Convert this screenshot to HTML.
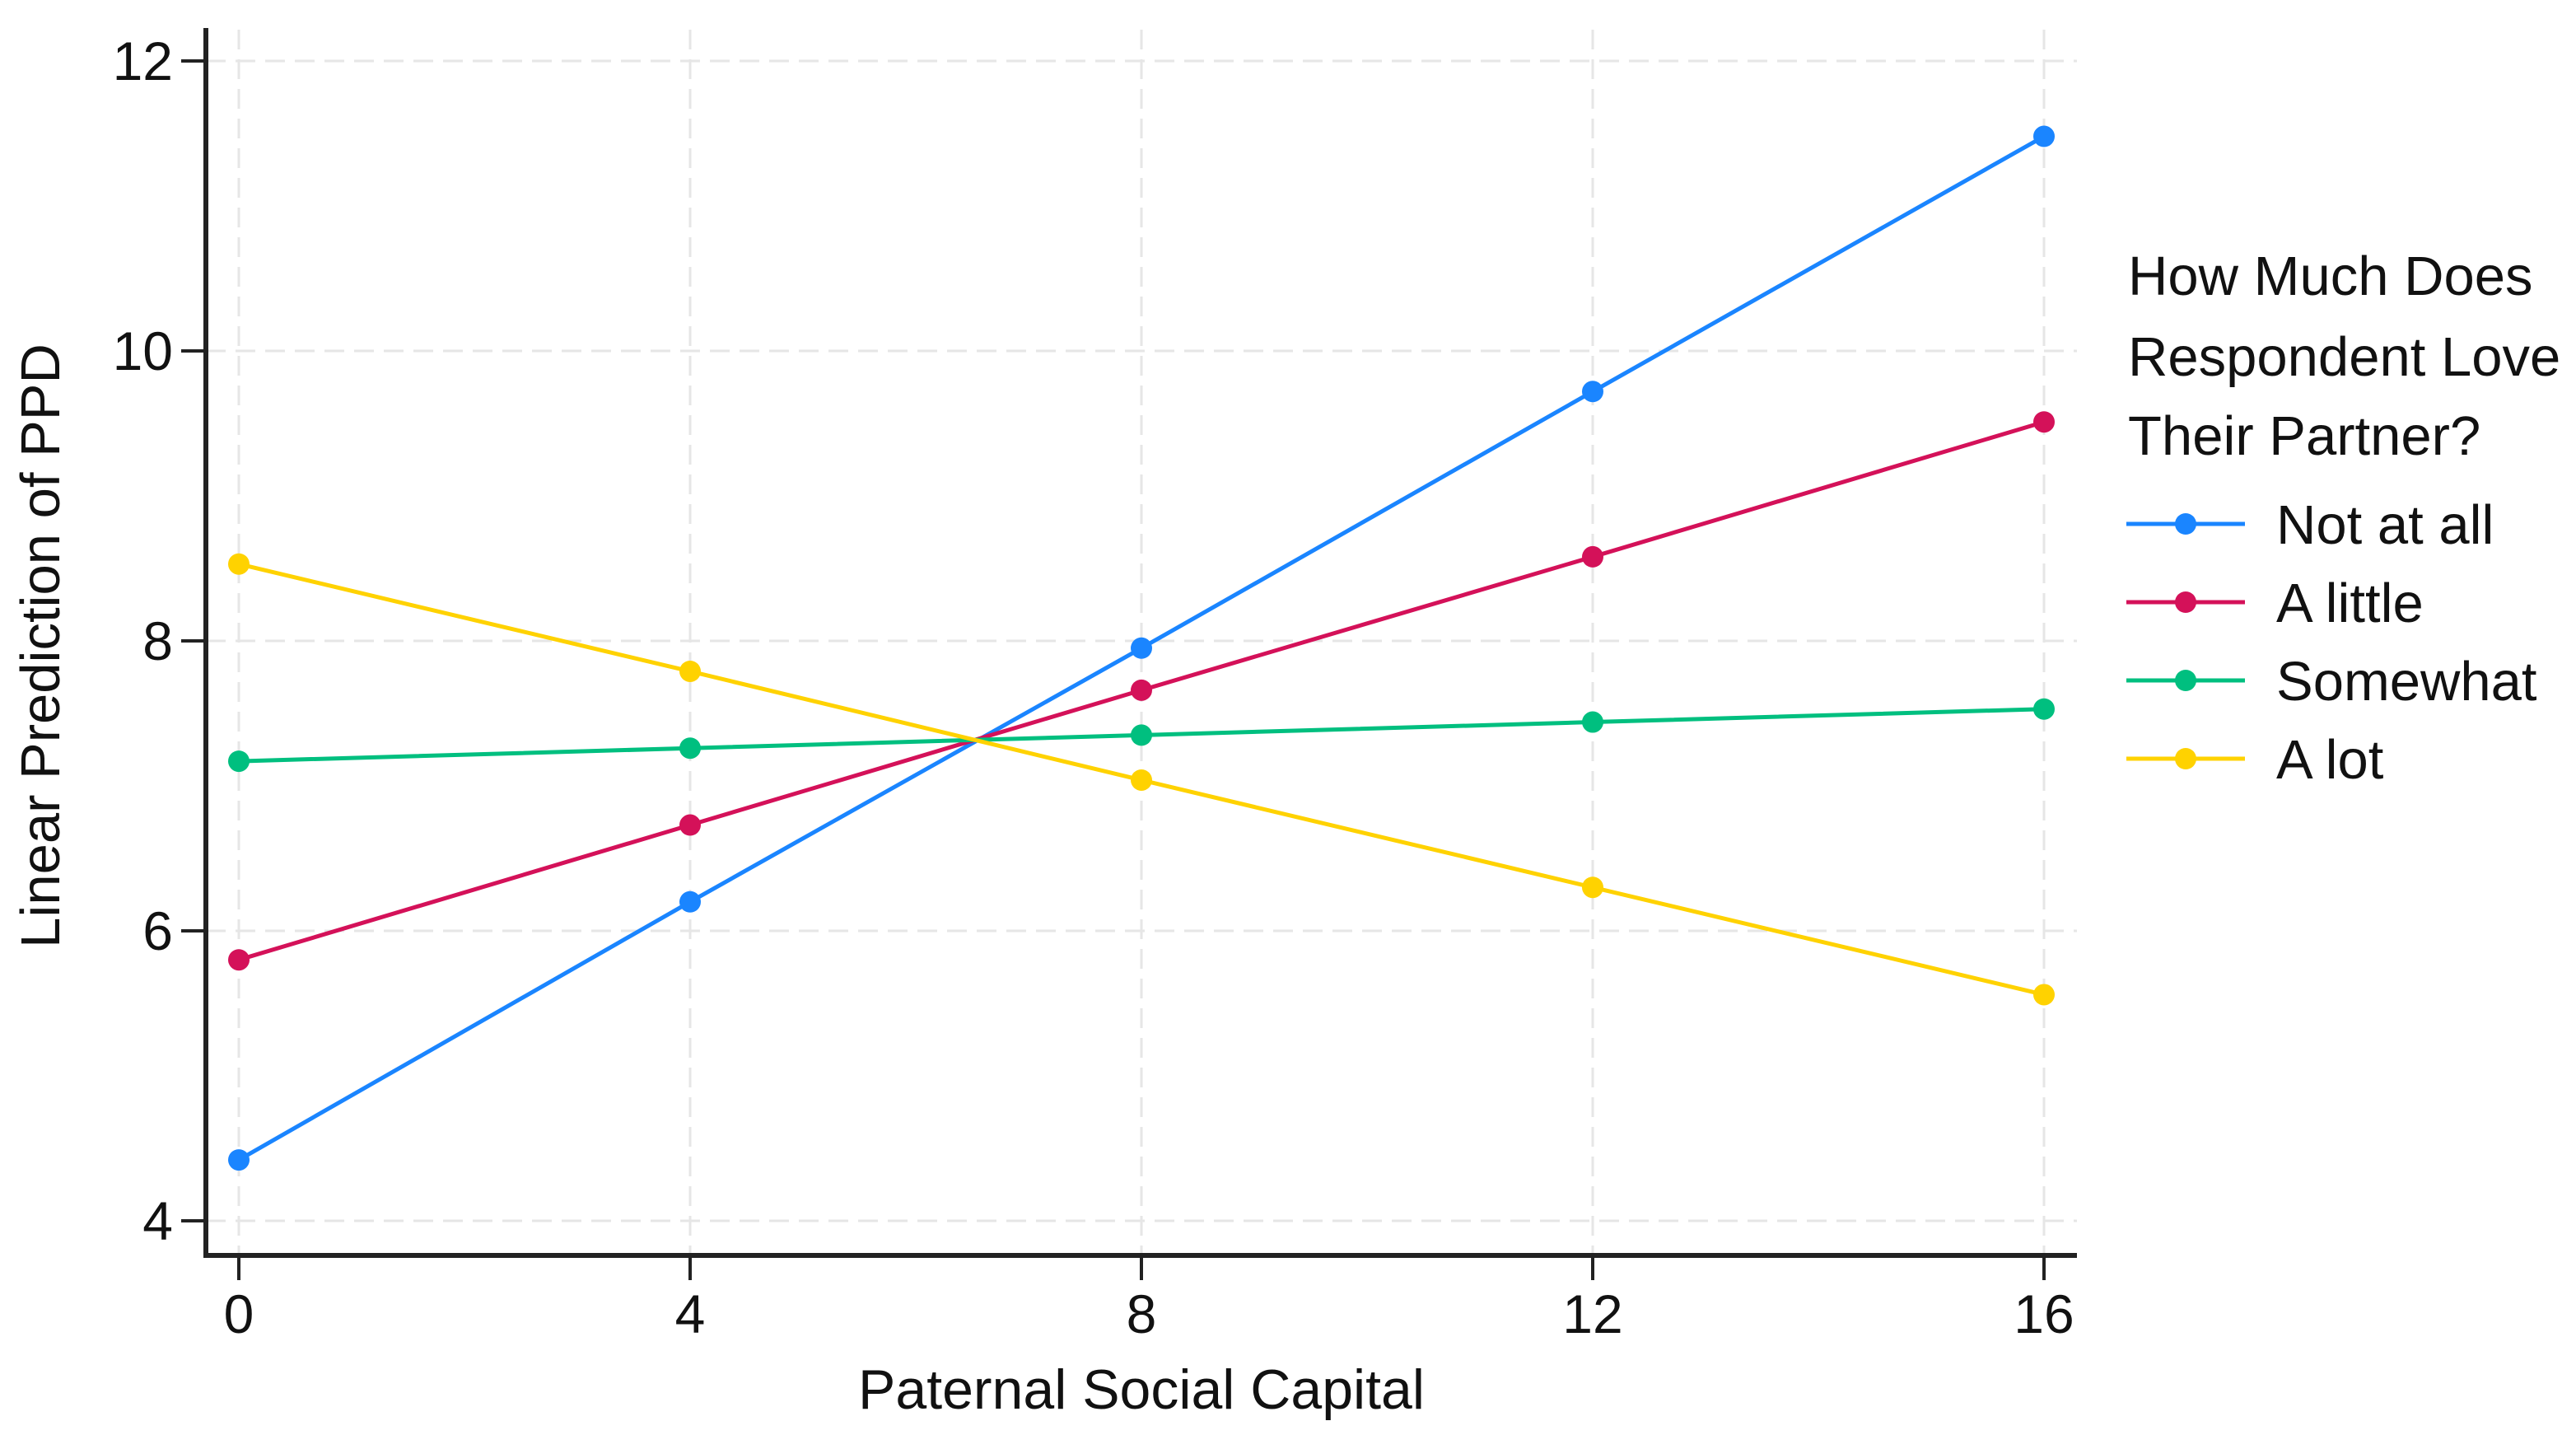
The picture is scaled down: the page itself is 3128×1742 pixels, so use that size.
<!DOCTYPE html>
<html><head><meta charset="utf-8"><style>
html,body{margin:0;padding:0;background:#fff;}
svg{display:block;font-family:"Liberation Sans",Arial,sans-serif;}
</style></head><body>
<svg id="chart" width="3128" height="1742" viewBox="0 0 3128 1742" xmlns="http://www.w3.org/2000/svg">
<rect width="3128" height="1742" fill="#fff"/>
<g id="grid"></g>
<g id="axes"></g>
<g id="series"></g>
<text x="1386" y="1710" font-size="68" text-anchor="middle" fill="#111">Paternal Social Capital</text>
<text transform="translate(72,784) rotate(-90)" font-size="67" text-anchor="middle" fill="#111">Linear Prediction of PPD</text>
<g id="legend">
<text font-size="67" fill="#111">
<tspan x="2584" y="358">How Much Does</tspan>
<tspan x="2584" y="456">Respondent Love</tspan>
<tspan x="2584" y="552">Their Partner?</tspan>
</text>
</g>
</svg>
<script>
const xValues = [0, 4, 8, 12, 16];
const seriesNames = ["Not at all", "A little", "Somewhat", "A lot"];
const notAtAll = [4.42, 6.20, 7.95, 9.72, 11.48];
const aLittle = [5.80, 6.73, 7.66, 8.58, 9.51];
const somewhat = [7.17, 7.26, 7.35, 7.44, 7.53];
const aLot = [8.53, 7.79, 7.04, 6.30, 5.56];
const xTicks = [0, 4, 8, 12, 16];
const yTicks = [4, 6, 8, 10, 12];

const colors = ["#1a85ff", "#d41159", "#00bf7f", "#ffd200"];
const allSeries = [notAtAll, aLittle, somewhat, aLot];
const NS = "http://www.w3.org/2000/svg";
const X = v => 290 + (v - 0) * (2482 - 290) / 16;
const Y = v => 1482 - (v - 4) * (1482 - 74) / 8;
function mk(tag, attrs, parent) {
  const e = document.createElementNS(NS, tag);
  for (const k in attrs) e.setAttribute(k, attrs[k]);
  parent.appendChild(e);
  return e;
}
const grid = document.getElementById('grid');
const axes = document.getElementById('axes');
const series = document.getElementById('series');
const legend = document.getElementById('legend');

yTicks.forEach(t => {
  const g = mk('line', {x1: 250, x2: 2522, y1: Y(t), y2: Y(t), stroke: '#e6e6e6', 'stroke-width': 3, 'stroke-dasharray': '24 12'}, grid);
  
  
  const tk = mk('line', {x1: 220, x2: 250, y1: Y(t), y2: Y(t), stroke: '#222', 'stroke-width': 4}, axes);
  
  
  const lb = mk('text', {x: 210, y: Y(t) + 23, 'font-size': 66, 'text-anchor': 'end', fill: '#111'}, axes);
  
  
  lb.textContent = t;
});
xTicks.forEach(t => {
  const g = mk('line', {x1: X(t), x2: X(t), y1: 36, y2: 1524, stroke: '#e6e6e6', 'stroke-width': 3, 'stroke-dasharray': '24 12'}, grid);
  
  
  const tk = mk('line', {x1: X(t), x2: X(t), y1: 1524, y2: 1554, stroke: '#222', 'stroke-width': 4}, axes);
  
  
  const lb = mk('text', {x: X(t), y: 1618, 'font-size': 66, 'text-anchor': 'middle', fill: '#111'}, axes);
  
  
  lb.textContent = t;
});
const ya = mk('line', {x1: 250, x2: 250, y1: 34, y2: 1527, stroke: '#222', 'stroke-width': 6}, axes);


const xa = mk('line', {x1: 247, x2: 2522, y1: 1524, y2: 1524, stroke: '#222', 'stroke-width': 6}, axes);



allSeries.forEach((vals, si) => {
  const pts = vals.map((v, i) => X(xValues[i]) + ',' + Y(v)).join(' ');
  const pl = mk('polyline', {points: pts, fill: 'none', stroke: colors[si], 'stroke-width': 5}, series);
  
  
});
allSeries.forEach((vals, si) => {
  vals.forEach((v, i) => {
    const c = mk('circle', {cx: X(xValues[i]), cy: Y(v), r: 13, fill: colors[si]}, series);
    
    
  });
});
seriesNames.forEach((n, si) => {
  const y = 636 + si * 95;
  const l = mk('line', {x1: 2582, x2: 2726, y1: y, y2: y, stroke: colors[si], 'stroke-width': 5}, legend);
  
  
  const c = mk('circle', {cx: 2654, cy: y, r: 13, fill: colors[si]}, legend);
  
  
  const t = mk('text', {x: 2764, y: y + 24, 'font-size': 67, fill: '#111'}, legend);
  
  
  t.textContent = n;
});
</script>
</body></html>
